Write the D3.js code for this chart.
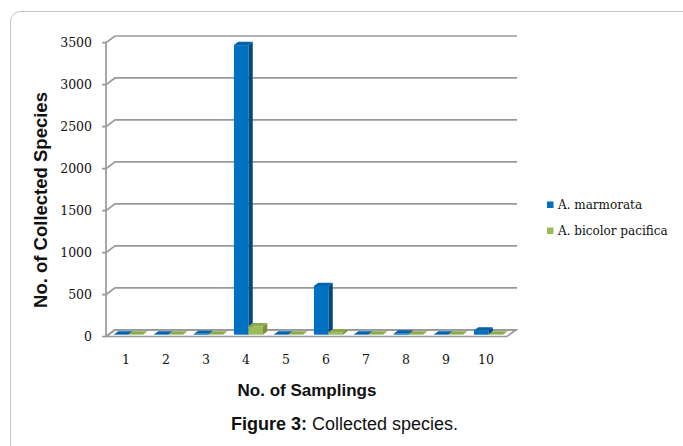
<!DOCTYPE html>
<html>
<head>
<meta charset="utf-8">
<script src="https://cdn.jsdelivr.net/npm/d3@7"></script>
<style>
  body { margin: 0; background: #fff; }
  svg { display: block; }
</style>
</head>
<body>
<svg id="chart" width="683" height="446"></svg>
<script>
const samplings = ["1", "2", "3", "4", "5", "6", "7", "8", "9", "10"];
const seriesNames = ["A. marmorata", "A. bicolor pacifica"];
const marmorata = [3, 3, 10, 3450, 3, 580, 3, 15, 3, 50];
const bicolor = [2, 2, 2, 100, 2, 30, 2, 2, 2, 3];
const yTicks = [0, 500, 1000, 1500, 2000, 2500, 3000, 3500];

const svg = d3.select("#chart");

// colours per series: front, side, top
const colors = {
    "A. marmorata": { front: "#0070c0", side: "#004a84", top: "#0062ac" },
    "A. bicolor pacifica": { front: "#9bbb59", side: "#76923c", top: "#8aaa4c" }
};

// 3D depth of the wall, and where the bars sit inside it
const DX = 9, DY = -6.7;
const f0 = 0.27, f1 = 0.75;

const y = d3.scaleLinear().domain([0, 3500]).range([336.5, 42.7]);
const x0 = d3.scaleBand().domain(samplings).range([106, 506])
    .paddingInner(0.275).paddingOuter(0.1375);
const x1 = d3.scaleBand().domain(seriesNames).range([0, x0.bandwidth()]);

// outer frame
svg.append("rect")
    .attr("x", 10.5).attr("y", 11.5)
    .attr("width", 700).attr("height", 460)
    .attr("rx", 10)
    .attr("fill", "#fff")
    .attr("stroke", "#c4c4c4");

const grid = svg.append("g")
    .attr("fill", "none")
    .attr("stroke", "#999")
    .attr("stroke-width", 1.7);

// floor
const y0 = y(0);
grid.append("path")
    .attr("fill", "#fff")
    .attr("d", `M106,${y0}L507,${y0}L${507 + DX},${y0 + DY}L${106 + DX},${y0 + DY}Z`);

// gridlines on the back wall, with the little slanted join to the axis
yTicks.forEach(t => {
    const yy = y(t);
    grid.append("path")
        .attr("d", `M102,${yy}L106,${yy}L${106 + DX},${yy + DY}L${517},${yy + DY}`);
});

// vertical axis line
grid.append("line")
    .attr("x1", 106).attr("x2", 106)
    .attr("y1", y(3500)).attr("y2", y0);

// y tick labels
svg.append("g")
    .selectAll("text")
    .data(yTicks)
    .join("text")
    .attr("x", 92)
    .attr("y", d => y(d))
    .attr("dy", "0.36em")
    .attr("text-anchor", "end")
    .attr("font-family", "DejaVu Serif")
    .attr("font-size", 12.5)
    .attr("fill", "#111")
    .text(d => d);

// bars
const rows = samplings.map((s, i) => ({
    sampling: s,
    values: [
        { name: seriesNames[0], value: marmorata[i] },
        { name: seriesNames[1], value: bicolor[i] }
    ]
}));

const ddx = (f1 - f0) * DX, ddy = (f1 - f0) * DY;

const bars = svg.append("g");
rows.forEach(r => {
    r.values.forEach(d => {
        const xl = x0(r.sampling) + x1(d.name) + f0 * DX;
        const xr = xl + x1.bandwidth();
        const yt = y(d.value) + f0 * DY;
        const yb = y(0) + f0 * DY;
        const c = colors[d.name];
        const g = bars.append("g");
        g.append("rect")
            .attr("x", xl).attr("y", yt)
            .attr("width", xr - xl).attr("height", yb - yt)
            .attr("fill", c.front);
        g.append("path")
            .attr("d", `M${xr},${yt}L${xr + ddx},${yt + ddy}L${xr + ddx},${yb + ddy}L${xr},${yb}Z`)
            .attr("fill", c.side);
        g.append("path")
            .attr("d", `M${xl},${yt}L${xr},${yt}L${xr + ddx},${yt + ddy}L${xl + ddx},${yt + ddy}Z`)
            .attr("fill", c.top);
    });
});

// x tick labels
svg.append("g")
    .selectAll("text")
    .data(samplings)
    .join("text")
    .attr("x", d => x0(d) + x0.bandwidth() / 2)
    .attr("y", 364)
    .attr("text-anchor", "middle")
    .attr("font-family", "DejaVu Serif")
    .attr("font-size", 12.5)
    .attr("fill", "#111")
    .text(d => d);

// axis titles
svg.append("text")
    .attr("transform", "translate(47,200) rotate(-90)")
    .attr("text-anchor", "middle")
    .attr("font-family", "Liberation Sans, Arial, sans-serif")
    .attr("font-weight", "bold")
    .attr("font-size", 18.5)
    .attr("fill", "#111")
    .text("No. of Collected Species");

svg.append("text")
    .attr("x", 307)
    .attr("y", 396)
    .attr("text-anchor", "middle")
    .attr("font-family", "Liberation Sans, Arial, sans-serif")
    .attr("font-weight", "bold")
    .attr("font-size", 17)
    .attr("fill", "#111")
    .text("No. of Samplings");

// legend
const legend = svg.append("g");
seriesNames.forEach((name, i) => {
    const ly = 205 + i * 26;
    legend.append("rect")
        .attr("x", 547).attr("y", ly - 3.5)
        .attr("width", 6.5).attr("height", 6.5)
        .attr("fill", colors[name].front);
    legend.append("text")
        .attr("x", 558).attr("y", ly)
        .attr("dy", "0.36em")
        .attr("font-family", "DejaVu Serif")
        .attr("font-size", 12)
        .attr("fill", "#111")
        .text(name);
});

// caption
const cap = svg.append("text")
    .attr("x", 231)
    .attr("y", 430)
    .attr("font-family", "Liberation Sans, Arial, sans-serif")
    .attr("font-size", 18)
    .attr("fill", "#111");
cap.append("tspan").attr("font-weight", "bold").text("Figure 3:");
cap.append("tspan").text(" Collected species.");
</script>
</body>
</html>
